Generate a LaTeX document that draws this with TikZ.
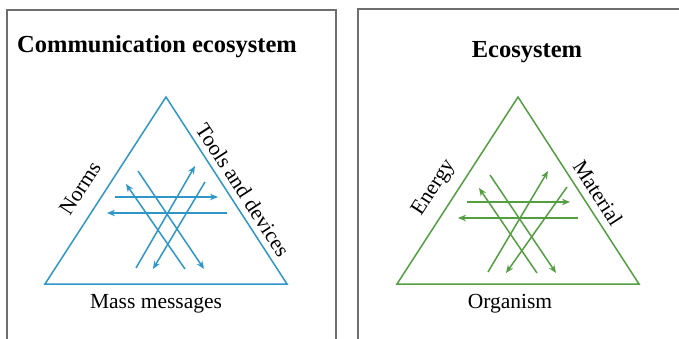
\documentclass[tikz,border=0pt]{standalone}
\usepackage{fontspec}
\setmainfont{Liberation Serif}
\usetikzlibrary{arrows.meta}
\definecolor{lblue}{RGB}{46,150,200}
\definecolor{lgreen}{RGB}{84,158,66}
\definecolor{frame}{RGB}{110,110,110}
\tikzset{
  panel/.style={draw=frame, line width=1.4pt},
  tri/.style={line width=1.5pt, line join=miter},
  flow/.style={line width=1.5pt, -{Stealth[length=8pt,width=6.5pt]}},
  title/.style={font=\fontsize{24.5}{28}\selectfont\bfseries, inner sep=0pt},
  lab/.style={font=\fontsize{21.5}{25}\selectfont, inner sep=0pt}
}
\begin{document}
\begin{tikzpicture}[x=1pt,y=1pt]
\useasboundingbox (0,0) rectangle (679,338);
% frames
\coordinate (f1a) at (7,-5); \coordinate (f1b) at (7,328);
\coordinate (f1c) at (336,328); \coordinate (f1d) at (336,-5);
\draw[panel] (f1a) -- (f1b) -- (f1c) -- (f1d);
\coordinate (f2a) at (358,-5); \coordinate (f2b) at (358,329);
\coordinate (f2c) at (690,329);
\draw[panel] (f2a) -- (f2b) -- (f2c);

% ===== left panel =====
\node[title] (t1) at (157,291) {Communication ecosystem};
\coordinate (A1) at (166,241); \coordinate (B1) at (45,54); \coordinate (C1) at (287,54);
\draw[tri, lblue] (A1) -- (B1) -- (C1) -- cycle;
\node[lab, rotate=57] (norms) at (80,150) {Norms};
\node[lab, rotate=-57] (tools) at (243,148) {Tools and devices};
\node[lab] (mass) at (156,34) {Mass messages};
\coordinate (h1s) at (115,141); \coordinate (h1e) at (218,141);
\coordinate (h2s) at (227,125); \coordinate (h2e) at (107,125);
\coordinate (d1s) at (138,167); \coordinate (d1e) at (204,69);
\coordinate (d2s) at (185,69);  \coordinate (d2e) at (126,154);
\coordinate (u1s) at (136,70);  \coordinate (u1e) at (195,172);
\coordinate (u2s) at (205,156); \coordinate (u2e) at (153,69);
\begin{scope}[lblue]
\draw[flow] (h1s) -- (h1e);
\draw[flow] (h2s) -- (h2e);
\draw[flow] (d1s) -- (d1e);
\draw[flow] (d2s) -- (d2e);
\draw[flow] (u1s) -- (u1e);
\draw[flow] (u2s) -- (u2e);
\end{scope}

% ===== right panel =====
\node[title] (t2) at (527,286) {Ecosystem};
\coordinate (A2) at (518,241); \coordinate (B2) at (397,54); \coordinate (C2) at (639,54);
\draw[tri, lgreen] (A2) -- (B2) -- (C2) -- cycle;
\node[lab, rotate=57] (energy) at (434,150) {Energy};
\node[lab, rotate=-57] (material) at (598,145) {Material};
\node[lab] (org) at (510,34) {Organism};
\coordinate (g1s) at (467,136); \coordinate (g1e) at (570,136);
\coordinate (g2s) at (578,120); \coordinate (g2e) at (458,120);
\coordinate (e1s) at (490,163); \coordinate (e1e) at (556,65);
\coordinate (e2s) at (537,65);  \coordinate (e2e) at (479,150);
\coordinate (k1s) at (488,66);  \coordinate (k1e) at (548,167);
\coordinate (k2s) at (567,151); \coordinate (k2e) at (506,65);
\begin{scope}[lgreen]
\draw[flow] (g1s) -- (g1e);
\draw[flow] (g2s) -- (g2e);
\draw[flow] (e1s) -- (e1e);
\draw[flow] (e2s) -- (e2e);
\draw[flow] (k1s) -- (k1e);
\draw[flow] (k2s) -- (k2e);
\end{scope}
\end{tikzpicture}
\end{document}
